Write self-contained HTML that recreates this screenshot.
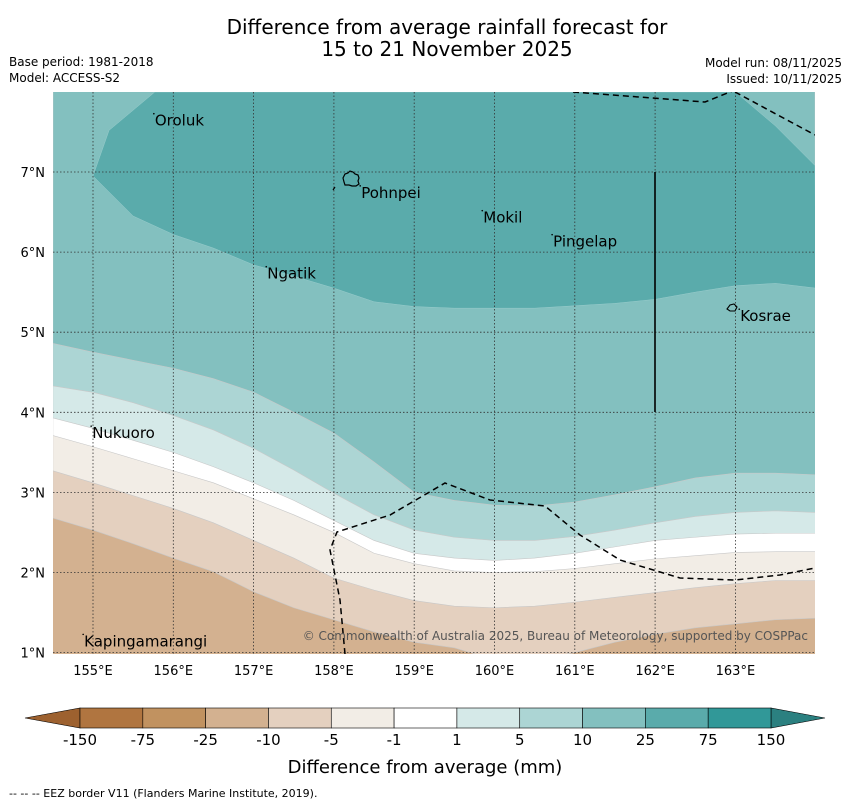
<!DOCTYPE html>
<html><head><meta charset="utf-8"><style>
body{margin:0;background:#fff;font-family:"Liberation Sans","DejaVu Sans",sans-serif;}
svg text{font-family:"DejaVu Sans","Liberation Sans",sans-serif;}
</style></head><body>
<svg width="850" height="804" viewBox="0 0 850 804" xmlns="http://www.w3.org/2000/svg">
<text x="447" y="34" text-anchor="middle" font-size="20">Difference from average rainfall forecast for</text>
<text x="447" y="56" text-anchor="middle" font-size="20">15 to 21 November 2025</text>
<text x="9" y="66" font-size="12">Base period: 1981-2018</text>
<text x="9" y="82" font-size="12">Model: ACCESS-S2</text>
<text x="842" y="67" font-size="12" text-anchor="end">Model run: 08/11/2025</text>
<text x="842" y="83" font-size="12" text-anchor="end">Issued: 10/11/2025</text>
<defs><clipPath id="mc"><rect x="53" y="92" width="762" height="562"/></clipPath></defs>
<g id="map" clip-path="url(#mc)"></g>
<g id="over"></g>
<g id="axes"></g>
<g id="cbar"></g>
<text x="425" y="773" text-anchor="middle" font-size="18">Difference from average (mm)</text>
<text x="9" y="797" font-size="11">--  --  -- EEZ border V11 (Flanders Marine Institute, 2019).</text>
</svg>
<script>
const lons=[154.5,155,155.5,156,156.5,157,157.5,158,158.5,159,159.5,160,160.5,161,161.5,162,162.5,163,163.5,164];
// boundary latitudes of contour levels along each longitude
const bNeg10=[2.68,2.53,2.36,2.18,2.01,1.76,1.56,1.41,1.26,1.13,1.06,0.91,0.91,1.0,1.13,1.23,1.31,1.36,1.41,1.43];
const bNeg5=[3.27,3.12,2.96,2.80,2.62,2.40,2.18,1.93,1.78,1.65,1.58,1.56,1.58,1.63,1.69,1.75,1.81,1.86,1.90,1.90];
const bNeg1=[3.71,3.57,3.42,3.27,3.12,2.92,2.72,2.50,2.24,2.11,2.02,2.00,2.01,2.05,2.11,2.17,2.21,2.25,2.26,2.26];
const bPos1=[3.93,3.80,3.65,3.50,3.32,3.12,2.90,2.65,2.40,2.24,2.18,2.15,2.18,2.24,2.32,2.40,2.44,2.48,2.49,2.49];
const bPos5=[4.33,4.25,4.12,3.96,3.78,3.55,3.28,2.99,2.72,2.53,2.44,2.40,2.40,2.45,2.53,2.62,2.70,2.75,2.77,2.75];
const bPos10=[4.86,4.75,4.65,4.55,4.42,4.25,4.00,3.74,3.38,3.00,2.90,2.84,2.83,2.88,2.97,3.07,3.18,3.24,3.24,3.22];
const bPos25=[null,6.95,6.45,6.22,6.05,5.84,5.70,5.55,5.38,5.32,5.30,5.30,5.30,5.33,5.36,5.41,5.50,5.58,5.61,5.55];
const levelColors=["#d3b190","#e4d0bf","#f2ede6","#ffffff","#d5e9e8","#acd5d4","#83c0bf","#5aabab"];
const cbColors=["#b07540","#c19260","#d3b190","#e4d0bf","#f2ede6","#ffffff","#d5e9e8","#acd5d4","#83c0bf","#5aabab","#319898"];
const cbLabels=["-150","-75","-25","-10","-5","-1","1","5","10","25","75","150"];
const lonTicks=[155,156,157,158,159,160,161,162,163];
const latTicks=[1,2,3,4,5,6,7];
const places=[["Oroluk",155.77,7.64],["Pohnpei",158.34,6.74],["Mokil",159.86,6.43],["Pingelap",160.73,6.13],["Ngatik",157.17,5.73],["Kosrae",163.06,5.20],["Nukuoro",154.99,3.74],["Kapingamarangi",154.89,1.14]];
const X=l=>93+(l-155)*80.3, Y=l=>172+(7-l)*80.1;
const NS="http://www.w3.org/2000/svg";
function mk(t,a,p){const e=document.createElementNS(NS,t);for(const k in a)e.setAttribute(k,a[k]);p.appendChild(e);return e;}
const map=document.getElementById('map');
let r=mk('rect',{x:53,y:92,width:762,height:562,fill:levelColors[0]},map);


const bounds=[bNeg10,bNeg5,bNeg1,bPos1,bPos5,bPos10];
bounds.forEach((b,i)=>{
  let d='M'+X(lons[0])+','+Y(b[0]);
  lons.forEach((l,j)=>{d+=' L'+X(l)+','+Y(b[j]);});
  d+=' L815,80 L53,80 Z';
  const p=mk('path',{d:d,fill:levelColors[i+1],stroke:"#c8c8c8","stroke-width":0.6},map);
  
  
});
let d='M'+X(155.77)+',92 L'+X(155.2)+','+Y(7.52);
lons.forEach((l,j)=>{if(bPos25[j]!==null)d+=' L'+X(l)+','+Y(bPos25[j]);});
d+=' L815,'+Y(7.08)+' L795,'+Y(7.33)+' L775,'+Y(7.58)+' L'+X(163)+',92 Z';
let p=mk('path',{d:d,fill:levelColors[7],stroke:"#9cc",'stroke-width':0.5},map);


lonTicks.forEach(l=>{const g=mk('line',{x1:X(l),x2:X(l),y1:92,y2:654,stroke:"#333","stroke-width":0.8,"stroke-dasharray":"1.5,2"},map);});
latTicks.forEach(l=>{const g=mk('line',{x1:53,x2:815,y1:Y(l),y2:Y(l),stroke:"#333","stroke-width":0.8,"stroke-dasharray":"1.5,2"},map);});
const eez1="573,92 705,102 735,90";
const eez2="735,92 815,135";
const eez3="345,654 340,600 330,550 337,532 390,515 445,483 490,500 545,506 580,535 620,560 680,578 735,580 780,575 815,568";
[eez1,eez2,eez3].forEach(pt=>{const e=mk('polyline',{points:pt,fill:"none",stroke:"#000","stroke-width":1.5,"stroke-dasharray":"6,4"},map);});
let vl=mk('line',{x1:655,x2:655,y1:172,y2:412,stroke:"#000","stroke-width":1.6},map);


const ov=document.getElementById('over');
let isl=mk('path',{d:"M343,178 l2,-4 3,-1 2,-2 3,1 2,2 3,1 1,3 -1,3 1,3 -3,2 -4,0 -3,-1 -4,0 -1,-3 Z M333,190 l2,-3",fill:"none",stroke:"#000","stroke-width":1.2},ov);


let ks=mk('path',{d:"M727,309 l3,-4 4,-1 3,3 -2,4 -5,0 Z",fill:"none",stroke:"#000","stroke-width":1.1},ov);


places.forEach(pl=>{const t=mk('text',{x:X(pl[1]),y:Y(pl[2])+5,"font-size":15},ov);t.textContent=pl[0];
const dt=mk('circle',{cx:X(pl[1])-1,cy:Y(pl[2])-7,r:0.8,fill:"#000"},ov);});
const cp=mk('text',{x:808,y:640,"font-size":12,"text-anchor":"end",fill:"#555"},ov);
cp.textContent="© Commonwealth of Australia 2025, Bureau of Meteorology, supported by COSPPac";


const ax=document.getElementById('axes');
lonTicks.forEach(l=>{const t=mk('text',{x:X(l),y:675,"font-size":13,"text-anchor":"middle"},ax);t.textContent=l+"°E";});
latTicks.forEach(l=>{const t=mk('text',{x:45,y:Y(l)+5,"font-size":13,"text-anchor":"end"},ax);t.textContent=l+"°N";});
const cb=document.getElementById('cbar');
const cx0=80,cw=(771-80)/11;
let lt=mk('polygon',{points:"25,718 80,708 80,728",fill:"#9d612f",stroke:"#000","stroke-width":0.6},cb);

let rt=mk('polygon',{points:"825,718 771,708 771,728",fill:"#2b8080",stroke:"#000","stroke-width":0.6},cb);

cbColors.forEach((c,i)=>{const s=mk('rect',{x:cx0+i*cw,y:708,width:cw,height:20,fill:c,stroke:"#000","stroke-width":0.6},cb);});
cbLabels.forEach((lb,i)=>{const t=mk('text',{x:cx0+i*cw,y:745,"font-size":15,"text-anchor":"middle"},cb);t.textContent=lb;});
</script>
</body></html>
